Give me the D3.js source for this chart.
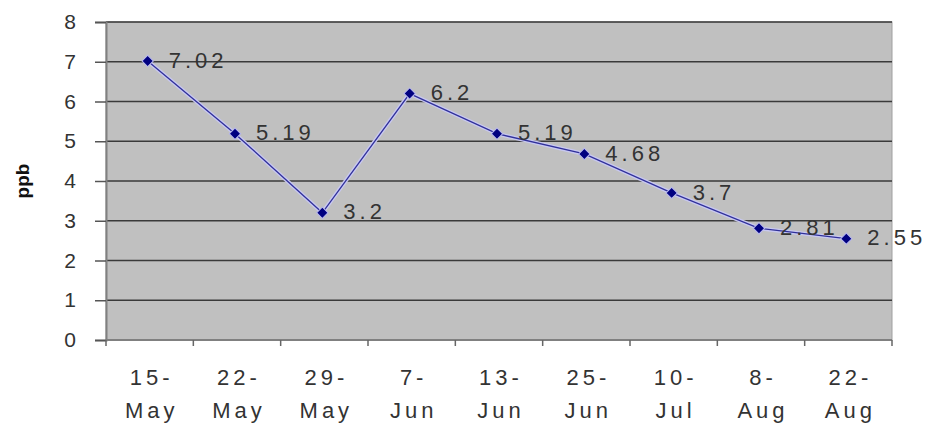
<!DOCTYPE html>
<html>
<head>
<meta charset="utf-8">
<script src="https://cdn.jsdelivr.net/npm/d3@7"></script>
<style>
  body { margin: 0; background: #fff; }
  text { font-family: "Liberation Sans", Arial, sans-serif; }
</style>
</head>
<body>
<div id="chart"></div>
<script>
const dates = ["15-May", "22-May", "29-May", "7-Jun", "13-Jun", "25-Jun", "10-Jul", "8-Aug", "22-Aug"];
const ppb = [7.02, 5.19, 3.2, 6.2, 5.19, 4.68, 3.7, 2.81, 2.55];
const yTicks = [0, 1, 2, 3, 4, 5, 6, 7, 8];

const width = 943, height = 427;
const margin = { top: 22, right: 51, bottom: 87, left: 106 };
const innerW = width - margin.left - margin.right,
      innerH = height - margin.top - margin.bottom;

const svg = d3.select('#chart').append('svg')
    .attr('width', width)
    .attr('height', height);
const g = svg.append('g')
    .attr('transform', `translate(${margin.left},${margin.top})`);

const x = d3.scaleBand().domain(dates).range([0, innerW]);
const y = d3.scaleLinear().domain([0, 8]).range([innerH, 0]);

// plot background
g.append('rect')
    .attr('width', innerW)
    .attr('height', innerH)
    .attr('fill', '#c0c0c0')
    .attr('stroke', '#a0a0a0')
    .attr('stroke-width', 1);

// grid lines
g.selectAll('.grid')
    .data(yTicks.filter(d => d > 0))
    .enter().append('line')
    .attr('x1', 0).attr('x2', innerW)
    .attr('y1', d => y(d)).attr('y2', d => y(d))
    .attr('stroke', '#3a3a3a')
    .attr('stroke-width', 1.5);

// y axis
const yAxis = g.append('g')
    .call(d3.axisLeft(y).tickValues(yTicks).tickSize(11).tickPadding(19));
yAxis.select('.domain').attr('stroke', '#808080').attr('stroke-width', 2);
yAxis.selectAll('.tick line').attr('stroke', '#555').attr('stroke-width', 1.5);
yAxis.selectAll('.tick text')
    .attr('font-size', 21)
    .attr('fill', '#333');

// x axis
const xTickPos = dates.map(d => x(d)).concat([innerW]);
const xAxis = g.append('g').attr('transform', `translate(0,${innerH})`);
xAxis.append('line')
    .attr('x1', 0).attr('x2', innerW)
    .attr('stroke', '#808080').attr('stroke-width', 2);
xAxis.selectAll('.xt')
    .data(xTickPos)
    .enter().append('line')
    .attr('x1', d => d).attr('x2', d => d)
    .attr('y1', 0).attr('y2', 6)
    .attr('stroke', '#666').attr('stroke-width', 1.5);
const xl = xAxis.selectAll('.xl')
    .data(dates)
    .enter().append('text')
    .attr('text-anchor', 'middle')
    .attr('font-size', 22)
    .attr('fill', '#333')
    .attr('letter-spacing', 4)
    .attr('transform', d => `translate(${x(d) + x.bandwidth() / 2 + 2},0)`);
xl.append('tspan').attr('x', 0).attr('y', 45).text(d => d.split('-')[0] + '-');
xl.append('tspan').attr('x', 0).attr('y', 78).text(d => d.split('-')[1]);

// y label
svg.append('text')
    .attr('transform', `translate(29,${margin.top + innerH / 2}) rotate(-90)`)
    .attr('text-anchor', 'middle')
    .attr('font-size', 19)
    .attr('font-weight', 'bold')
    .attr('fill', '#111')
    .text('ppb');

// line
const pts = dates.map((d, i) => [x(d) + x.bandwidth() / 2 - 2, y(ppb[i])]);
const line = d3.line();
g.append('path')
    .attr('d', line(pts))
    .attr('fill', 'none')
    .attr('stroke', '#c8c8f0')
    .attr('stroke-width', 4);
g.append('path')
    .attr('d', line(pts))
    .attr('fill', 'none')
    .attr('stroke', '#30309a')
    .attr('stroke-width', 1.3);

// markers: square turned 45 degrees
g.selectAll('.pt')
    .data(pts)
    .enter().append('path')
    .attr('d', d3.symbol().type(d3.symbolSquare).size(64))
    .attr('transform', d => `translate(${d[0]},${d[1]}) rotate(45)`)
    .attr('fill', '#000080')
    .attr('stroke', '#b8b8ee')
    .attr('stroke-width', 1);

// data labels
g.selectAll('.lbl')
    .data(pts)
    .enter().append('text')
    .attr('x', d => d[0] + 21)
    .attr('y', d => d[1])
    .attr('dy', '0.3em')
    .attr('font-size', 22)
    .attr('letter-spacing', 4)
    .attr('fill', '#333')
    .text((d, i) => ppb[i]);
</script>
</body>
</html>
